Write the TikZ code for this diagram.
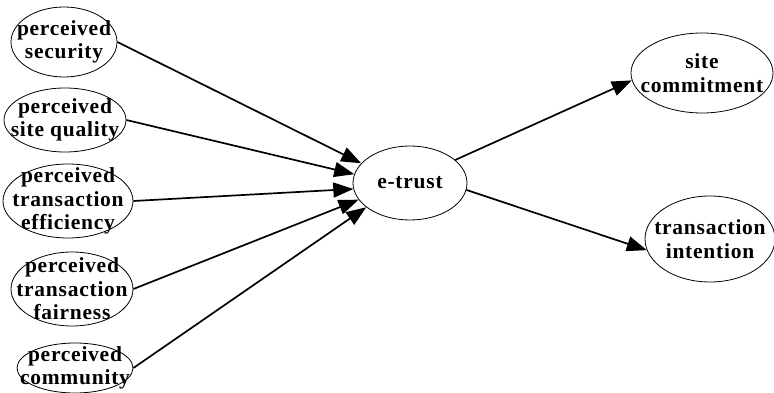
\documentclass[tikz,border=0pt]{standalone}
\usepackage{fontspec}
\usepackage{tikz}
\usetikzlibrary{arrows.meta,shapes.geometric}
\newfontfamily\diagfont{Liberation Serif}[LetterSpace=3.5]

\begin{document}
\begin{tikzpicture}[x=1pt, y=-1pt,
  construct/.style={draw, ellipse, inner sep=0pt, line width=0.8pt},
  txt/.style={align=center, inner sep=0pt,
              font=\diagfont\bfseries\fontsize{21.5}{23.5}\selectfont},
  arr/.style={-{Triangle[length=20pt,width=15pt]}, line width=1.7pt}
]
\useasboundingbox (0,0) rectangle (774,393);
% antecedents
\node[construct, minimum width=106, minimum height=70,
      label={[txt]center:perceived\\security}] (security) at (64,42) {};
\node[construct, minimum width=122, minimum height=64,
      label={[txt]center:perceived\\site quality}] (quality) at (65,120) {};
\node[construct, minimum width=130, minimum height=74,
      label={[txt]center:perceived\\transaction\\efficiency}] (efficiency) at (68,201) {};
\node[construct, minimum width=122, minimum height=74,
      label={[txt]center:perceived\\transaction\\fairness}] (fairness) at (72,289) {};
\node[construct, minimum width=116, minimum height=50,
      label={[txt]center:perceived\\community}] (community) at (75,368) {};
% mediator
\node[construct, minimum width=114, minimum height=74,
      label={[txt]center:e-trust}] (etrust) at (410,183) {};
% outcomes
\node[construct, minimum width=142, minimum height=80,
      label={[txt]center:site\\commitment}] (commitment) at (702,73) {};
\node[construct, minimum width=130, minimum height=86,
      label={[txt]center:transaction\\intention}] (intention) at (710,239) {};
\draw[arr] (security.east) -- (etrust.158);
\draw[arr] (quality.east) -- (etrust.171);
\draw[arr] (efficiency.east) -- (etrust.186);
\draw[arr] (fairness.east) -- (etrust.198);
\draw[arr] (community.east) -- (etrust.209);
\draw[arr] (etrust.27) -- (commitment.186);
\draw[arr] (etrust.-7) -- (intention.190);
\end{tikzpicture}
\end{document}
